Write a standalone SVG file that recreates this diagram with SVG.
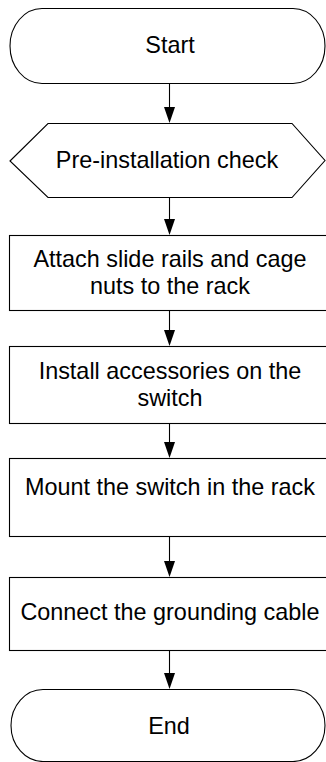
<svg xmlns="http://www.w3.org/2000/svg" width="326" height="762" viewBox="0 0 326 762">
<defs>
<style>
.s{fill:#fff;stroke:#000;stroke-width:1.1}
.t{font-family:"Liberation Sans",Arial,sans-serif;font-size:23.4px;fill:#000;text-anchor:middle}
.c{stroke:#000;stroke-width:1.1;fill:none}
.h{fill:#000}
</style>
</defs>
<rect width="326" height="762" fill="#fff"/>
<g id="connectors">
<line class="c" x1="169.5" y1="83" x2="169.5" y2="108"/>
<polygon class="h" points="164,107 175,107 169.5,123"/>
<line class="c" x1="169.5" y1="198" x2="169.5" y2="220"/>
<polygon class="h" points="164,219 175,219 169.5,235"/>
<line class="c" x1="169.5" y1="310" x2="169.5" y2="331"/>
<polygon class="h" points="164,330 175,330 169.5,346"/>
<line class="c" x1="169.5" y1="423" x2="169.5" y2="443"/>
<polygon class="h" points="164,442 175,442 169.5,458"/>
<line class="c" x1="169.5" y1="537" x2="169.5" y2="562"/>
<polygon class="h" points="164,561 175,561 169.5,577"/>
<line class="c" x1="169.5" y1="650" x2="169.5" y2="674"/>
<polygon class="h" points="164,673 175,673 169.5,689"/>
</g>
<g id="start">
<path class="s" d="M42,8.5 H293 A32,37.5 0 0 1 293,83.5 H42 A32,37.5 0 0 1 42,8.5 Z"/>
<text class="t" x="170" y="53">Start</text>
</g>
<g id="check">
<polygon class="s" points="10,161 48,123.5 292,123.5 325,160.5 292,197.5 48,197.5"/>
<text class="t" x="167" y="168">Pre-installation check</text>
</g>
<g id="rails">
<rect class="s" x="9.5" y="235.5" width="322" height="75"/>
<text class="t" x="170" y="267">Attach slide rails and cage</text>
<text class="t" x="170" y="294">nuts to the rack</text>
</g>
<g id="accessories">
<rect class="s" x="9.5" y="346.5" width="322" height="77"/>
<text class="t" x="170" y="379">Install accessories on the</text>
<text class="t" x="170" y="406">switch</text>
</g>
<g id="mount">
<rect class="s" x="9.5" y="458.5" width="322" height="78"/>
<text class="t" x="170" y="495">Mount the switch in the rack</text>
</g>
<g id="ground">
<rect class="s" x="9.5" y="577.5" width="322" height="73"/>
<text class="t" x="170" y="620">Connect the grounding cable</text>
</g>
<g id="end">
<path class="s" d="M43,689.5 H293 A32,36 0 0 1 293,761.5 H43 A32,36 0 0 1 43,689.5 Z"/>
<text class="t" x="169" y="734">End</text>
</g>
</svg>
